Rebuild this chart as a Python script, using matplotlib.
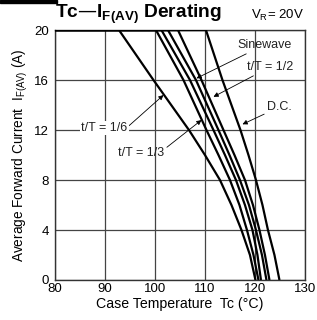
import matplotlib
matplotlib.use('Agg')
import matplotlib.pyplot as plt
from matplotlib.patches import Rectangle

plt.rcParams['font.family'] = ['Liberation Sans', 'DejaVu Sans']

# forward current levels (A) at which the case temperature was read
current = [20, 16, 12, 10, 8, 6, 4, 2, 0]

# case temperature (degC) for each curve at the current levels above
tc_1_6 = [92.8, 99.7, 106.8, 110.0, 113.0, 115.3, 117.3, 119.0, 120.1]
tc_1_3 = [100.2, 105.7, 110.3, 112.7, 115.0, 116.9, 118.4, 119.7, 120.7]
tc_mid = [101.3, 107.0, 111.7, 114.0, 116.2, 118.0, 119.5, 120.5, 121.2]
tc_sine = [102.6, 108.2, 112.7, 114.9, 117.0, 118.8, 120.2, 121.4, 122.3]
tc_1_2 = [104.6, 109.3, 113.7, 115.9, 118.0, 119.6, 120.9, 122.0, 122.9]
tc_dc = [110.2, 113.5, 117.1, 118.7, 120.2, 121.5, 122.6, 123.9, 124.9]

curves = [tc_1_6, tc_1_3, tc_mid, tc_sine, tc_1_2, tc_dc]

x_ticks = [80, 90, 100, 110, 120, 130]
y_ticks = [0, 4, 8, 12, 16, 20]

fig = plt.figure(figsize=(3.17, 3.2), dpi=100)
ax = fig.add_axes([0.1735, 0.125, 0.7885, 0.781])

ax.set_xlim(80, 130)
ax.set_ylim(0, 20)
ax.set_xticks(x_ticks)
ax.set_yticks(y_ticks)
ax.tick_params(length=0, labelsize=9.5)
ax.tick_params(axis='x', pad=2.5)
ax.tick_params(axis='y', pad=4.5)
# lift the y labels a touch so "0" clears the "80" below it
for lab in ax.get_yticklabels():
    lab.set_verticalalignment('center_baseline')
ax.grid(True, color='#444444', lw=0.9)
ax.set_axisbelow(True)
for sp in ax.spines.values():
    sp.set_color('#333333')
    sp.set_linewidth(1.0)

for tc in curves:
    # flat part at the 20 A limit, then the derating curve
    ax.plot([80] + tc, [current[0]] + current, color='black', lw=1.6,
            solid_capstyle='butt', solid_joinstyle='round', zorder=3)

ax.set_xlabel('Case Temperature  Tc (°C)', fontsize=10.2, labelpad=1)
ax.set_ylabel('Average Forward Current  I$_{\\mathregular{F(AV)}}$ (A)',
              fontsize=9.8, labelpad=3)

arrow = dict(arrowstyle='-|>', color='black', lw=0.6, mutation_scale=7,
             shrinkA=0, shrinkB=0)
txt = dict(fontsize=9, color='#222222', va='center')

ax.annotate('Sinewave', xy=(108.3, 16.14), xytext=(116.4, 18.8),
            arrowprops=arrow, ha='left', **txt)
ax.annotate('t/T = 1/2', xy=(111.7, 14.66), xytext=(118.4, 17.04),
            arrowprops=arrow, ha='left', **txt)
ax.annotate('D.C.', xy=(117.5, 12.46), xytext=(122.4, 13.84),
            arrowprops=arrow, ha='left', **txt)
ax.annotate('t/T = 1/6', xy=(101.7, 14.8), xytext=(85.3, 12.16),
            arrowprops=dict(arrow, relpos=(1.0, 0.6)), ha='left',
            bbox=dict(fc='white', ec='none', pad=1.0), **txt)
ax.annotate('t/T = 1/3', xy=(109.3, 12.8), xytext=(92.6, 10.16),
            arrowprops=dict(arrow, relpos=(1.0, 0.8)), ha='left', **txt)

fig.text(0.174, 0.955, 'Tc—I$_{\\mathregular{F(AV)}}$ Derating', fontsize=13.8,
         fontweight='bold', va='center', ha='left')
fig.text(0.958, 0.952, 'V$_{\\mathregular{R}}$= 20V', fontsize=9.5,
         va='center', ha='right')

# dark bar at the top left corner of the picture
fig.patches.append(Rectangle((0, 0.99), 0.18, 0.01, transform=fig.transFigure,
                             color='black', zorder=5))

fig.savefig('out.png', dpi=100)
